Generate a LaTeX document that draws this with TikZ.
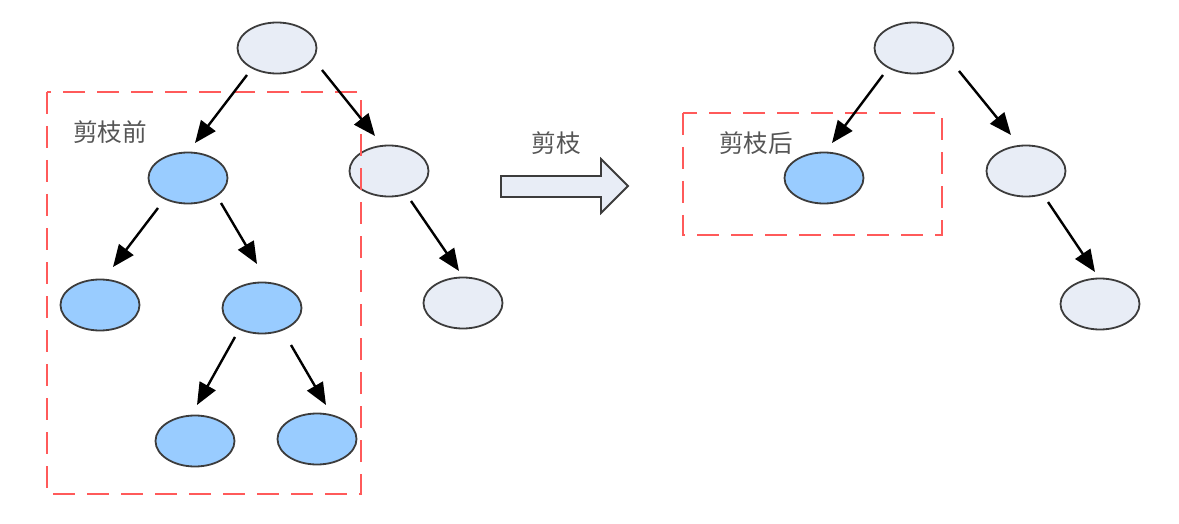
\documentclass[tikz,border=0pt]{standalone}
\usepackage{fontspec}
\newfontfamily\cjk{Noto Sans CJK SC}
\usetikzlibrary{shapes.geometric,arrows.meta,calc}
\definecolor{nodegray}{HTML}{E8EDF6}
\definecolor{nodeblue}{HTML}{99CCFF}
\definecolor{edgegray}{HTML}{3C3C3C}
\definecolor{cutred}{HTML}{FF5A5A}
\definecolor{labelgray}{HTML}{555555}
\tikzset{
  treenode/.style={ellipse, draw=edgegray, line width=0.9pt, minimum width=39.5pt, minimum height=25.5pt, inner sep=0pt},
  graynode/.style={treenode, fill=nodegray},
  bluenode/.style={treenode, fill=nodeblue},
  edge/.style={line width=1.2pt, -{Triangle[length=11pt,width=9pt]}},
  cutbox/.style={draw=cutred, line width=1pt, dash pattern=on 11pt off 6pt},
  lbl/.style={font=\cjk\fontsize{12.3}{13}\selectfont, text=labelgray, inner sep=0pt},
  bigarrow/.style={draw=edgegray, line width=0.9pt, fill=nodegray, line join=miter}
}
\begin{document}
\begin{tikzpicture}[x=0.5pt, y=-0.5pt]
\useasboundingbox (0,0) rectangle (1179,524);
% left tree
\node[graynode] (r1) at (277,48) {};
\node[bluenode] (a1) at (188,178) {};
\node[graynode] (g1) at (389,171) {};
\node[bluenode] (l1) at (100,305) {};
\node[bluenode] (m1) at (262,308) {};
\node[bluenode] (b1) at (195,441) {};
\node[bluenode] (b2) at (317,439) {};
\node[graynode] (g2) at (463,303) {};
\draw[cutbox] (47,92) rectangle (361,494);
\node[lbl] (t1) at (110,132) {剪枝前};
\draw[edge] ($(r1)+(-30,27)$) -- ($(a1)+(7,-35)$);
\draw[edge] ($(r1)+(45,22)$) -- ($(g1)+(-14,-35)$);
\draw[edge] ($(a1)+(-30,30)$) -- ($(l1)+(13,-38)$);
\draw[edge] ($(a1)+(33,25)$) -- ($(m1)+(-5,-44)$);
\draw[edge] ($(m1)+(-27,29)$) -- ($(b1)+(2,-36)$);
\draw[edge] ($(m1)+(29,37)$) -- ($(b2)+(9,-34)$);
\draw[edge] ($(g1)+(22,30)$) -- ($(g2)+(-4,-32)$);
% big arrow
\draw[bigarrow] (501,176) -- (601,176) -- (601,159) -- (628,186) -- (601,213) -- (601,197) -- (501,197) -- cycle;
\node[lbl] (t2) at (556,143) {剪枝};
% right tree
\node[graynode] (r2) at (914,48) {};
\node[bluenode] (a2) at (824,178) {};
\node[graynode] (m2) at (1026,171) {};
\node[graynode] (g3) at (1100,304) {};
\draw[cutbox] (683,113) rectangle (942,235);
\node[lbl] (t3) at (756,143) {剪枝后};
\draw[edge] ($(r2)+(-31,27)$) -- ($(a2)+(8,-35)$);
\draw[edge] ($(r2)+(45,23)$) -- ($(m2)+(-15,-36)$);
\draw[edge] ($(m2)+(22,31)$) -- ($(g3)+(-5,-32)$);
\end{tikzpicture}
\end{document}
